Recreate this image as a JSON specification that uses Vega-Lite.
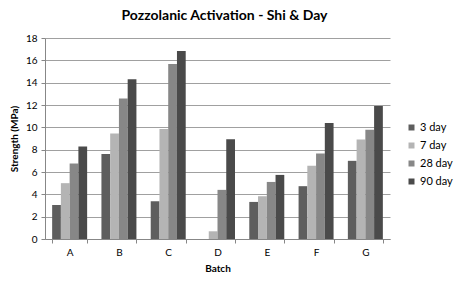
{
  "$schema": "https://vega.github.io/schema/vega-lite/v6.json",
  "autosize": {"type": "none"},
  "width": 345,
  "height": 201,
  "padding": {"left": 45, "top": 38, "right": 68, "bottom": 50},
  "title": {
    "text": "Pozzolanic Activation - Shi & Day",
    "font": "Lato",
    "fontSize": 14,
    "fontWeight": "bold",
    "color": "#000000",
    "anchor": "middle",
    "dx": 7,
    "offset": 10
  },
  "data": {
    "values": [
      {"batch": "A", "age": "3 day", "strength": 3.05},
      {"batch": "A", "age": "7 day", "strength": 5.0},
      {"batch": "A", "age": "28 day", "strength": 6.76},
      {"batch": "A", "age": "90 day", "strength": 8.29},
      {"batch": "B", "age": "3 day", "strength": 7.62},
      {"batch": "B", "age": "7 day", "strength": 9.45},
      {"batch": "B", "age": "28 day", "strength": 12.59},
      {"batch": "B", "age": "90 day", "strength": 14.3},
      {"batch": "C", "age": "3 day", "strength": 3.38},
      {"batch": "C", "age": "7 day", "strength": 9.84},
      {"batch": "C", "age": "28 day", "strength": 15.67},
      {"batch": "C", "age": "90 day", "strength": 16.83},
      {"batch": "D", "age": "3 day", "strength": 0},
      {"batch": "D", "age": "7 day", "strength": 0.69},
      {"batch": "D", "age": "28 day", "strength": 4.4},
      {"batch": "D", "age": "90 day", "strength": 8.94},
      {"batch": "E", "age": "3 day", "strength": 3.32},
      {"batch": "E", "age": "7 day", "strength": 3.83},
      {"batch": "E", "age": "28 day", "strength": 5.11},
      {"batch": "E", "age": "90 day", "strength": 5.74},
      {"batch": "F", "age": "3 day", "strength": 4.73},
      {"batch": "F", "age": "7 day", "strength": 6.55},
      {"batch": "F", "age": "28 day", "strength": 7.66},
      {"batch": "F", "age": "90 day", "strength": 10.38},
      {"batch": "G", "age": "3 day", "strength": 7.0},
      {"batch": "G", "age": "7 day", "strength": 8.91},
      {"batch": "G", "age": "28 day", "strength": 9.78},
      {"batch": "G", "age": "90 day", "strength": 11.9}
    ]
  },
  "mark": {"type": "bar"},
  "encoding": {
    "x": {
      "field": "batch",
      "type": "nominal",
      "title": "Batch",
      "scale": {"paddingInner": 0.29, "paddingOuter": 0.145},
      "axis": {
        "labelAngle": 0,
        "tickBand": "extent",
        "tickSize": 4,
        "tickColor": "#878787",
        "domainColor": "#878787",
        "labelPadding": 4,
        "titlePadding": 6
      }
    },
    "xOffset": {
      "field": "age",
      "type": "nominal",
      "sort": ["3 day", "7 day", "28 day", "90 day"],
      "scale": {"paddingInner": 0, "paddingOuter": 0}
    },
    "y": {
      "field": "strength",
      "type": "quantitative",
      "title": "Strength (MPa)",
      "scale": {"domain": [0, 18], "nice": false},
      "axis": {
        "values": [0, 2, 4, 6, 8, 10, 12, 14, 16, 18],
        "grid": true,
        "gridColor": "#a0a0a0",
        "tickSize": 4,
        "tickColor": "#878787",
        "domainColor": "#878787",
        "labelPadding": 4,
        "titlePadding": 6
      }
    },
    "color": {
      "field": "age",
      "type": "nominal",
      "sort": ["3 day", "7 day", "28 day", "90 day"],
      "scale": {
        "domain": ["3 day", "7 day", "28 day", "90 day"],
        "range": ["#5e5e5e", "#b4b4b4", "#878787", "#4a4a4a"]
      },
      "legend": {
        "title": null,
        "orient": "none",
        "legendX": 361,
        "legendY": 84,
        "symbolType": "square",
        "symbolSize": 36,
        "symbolStrokeWidth": 0,
        "labelFontSize": 11,
        "labelFont": "Lato",
        "labelColor": "#000000",
        "rowPadding": 6,
        "labelOffset": 3
      }
    }
  },
  "config": {
    "view": {"stroke": null},
    "font": "Lato",
    "axis": {
      "labelFont": "Lato",
      "labelFontSize": 10,
      "labelColor": "#000000",
      "titleFont": "Lato",
      "titleFontSize": 10,
      "titleFontWeight": "bold",
      "titleColor": "#000000"
    }
  }
}
